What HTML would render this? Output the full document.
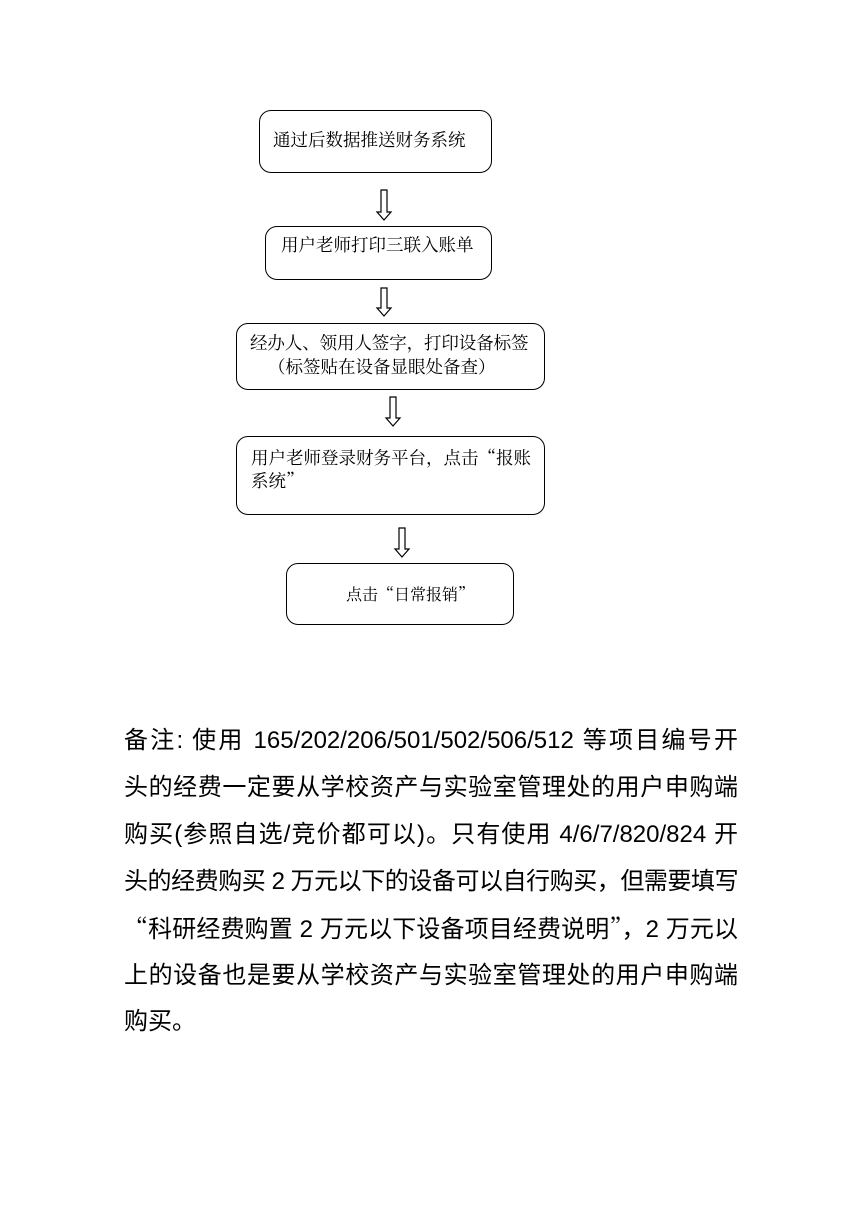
<!DOCTYPE html>
<html><head><meta charset="utf-8"><style>
body{margin:0;width:857px;height:1218px;background:#fff;position:relative;overflow:hidden;font-family:"Liberation Serif","Noto Serif CJK SC","Noto Sans CJK SC",serif;color:#000}
.b{position:absolute;border:1.5px solid #000;border-radius:12px;box-sizing:border-box}
.t{position:absolute;font-size:17.5px;white-space:nowrap;line-height:24px}
.q{font-family:"Noto Serif CJK SC","Noto Sans CJK SC",serif}
.n{position:absolute;left:124px;width:614px;height:30px;font-family:"Liberation Sans","Noto Sans CJK SC",sans-serif;font-size:24px;white-space:nowrap;line-height:30px;text-align:justify;text-align-last:justify}
svg{position:absolute;left:0;top:0}
</style></head><body>
<div class="b" style="left:259px;top:110px;width:233px;height:63px"></div>
<div class="t" style="left:273px;top:128px">通过后数据推送财务系统</div>
<div class="b" style="left:265px;top:226px;width:227px;height:54px"></div>
<div class="t" style="left:281px;top:233px">用户老师打印三联入账单</div>
<div class="b" style="left:236px;top:323px;width:309px;height:67px"></div>
<div class="t" style="left:250px;top:331px;letter-spacing:-0.1px">经办人、领用人签字，打印设备标签</div>
<div class="t" style="left:268px;top:355px">（标签贴在设备显眼处备查）</div>
<div class="b" style="left:236px;top:436px;width:309px;height:79px"></div>
<div class="t" style="left:251px;top:446px">用户老师登录财务平台，点击<span class="q">“</span>报账</div>
<div class="t" style="left:251px;top:469px">系统<span class="q">”</span></div>
<div class="b" style="left:286px;top:563px;width:228px;height:62px"></div>
<div class="t" style="left:346px;top:582px;font-size:16px">点击<span class="q">“</span>日常报销<span class="q">”</span></div>
<svg width="857" height="1218" fill="none" stroke="#000" stroke-width="1.2">
<path d="M381 190V212H377L384 220L391 212H387V190Z"/>
<path d="M381 288V308H377L384 316L391 308H387V288Z"/>
<path d="M390 397V418H386L393 426L400 418H396V397Z"/>
<path d="M399 528V549H395L402 557L409 549H405V528Z"/>
</svg>
<div class="n" style="top:726px">备注: 使用 165/202/206/501/502/506/512 等项目编号开</div>
<div class="n" style="top:773px">头的经费一定要从学校资产与实验室管理处的用户申购端</div>
<div class="n" style="top:820px">购买(参照自选/竞价都可以)。只有使用 4/6/7/820/824 开</div>
<div class="n" style="top:867px;letter-spacing:-0.6px">头的经费购买 2 万元以下的设备可以自行购买，但需要填写</div>
<div class="n" style="top:912px"><span class="q">“</span>科研经费购置 2 万元以下设备项目经费说明<span class="q">”</span>，2 万元以</div>
<div class="n" style="top:961px">上的设备也是要从学校资产与实验室管理处的用户申购端</div>
<div class="n" style="top:1007px;width:auto;text-align-last:left">购买。</div>
</body></html>
